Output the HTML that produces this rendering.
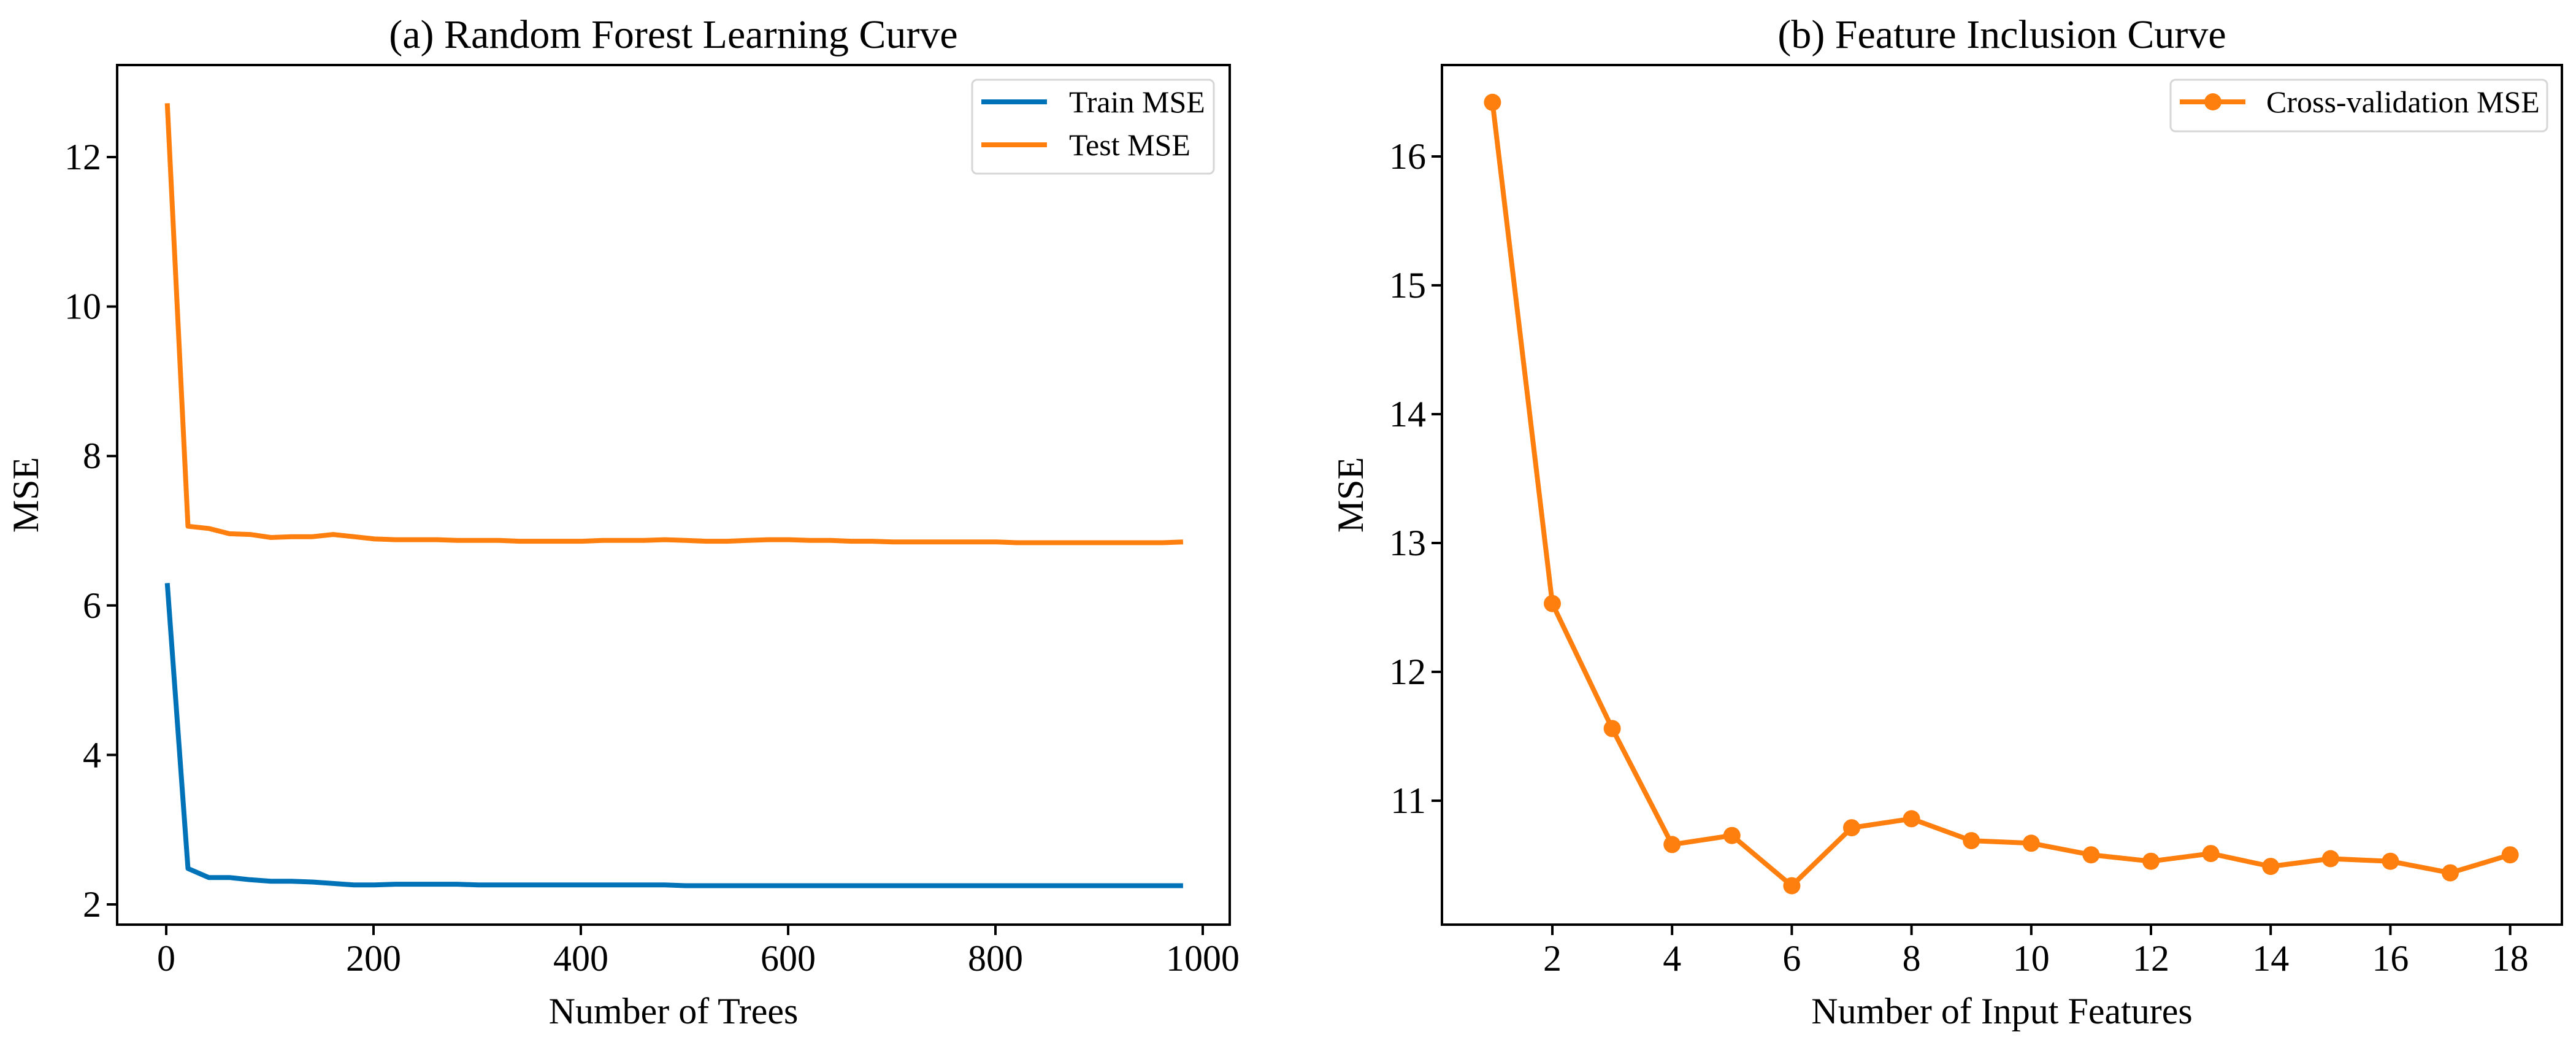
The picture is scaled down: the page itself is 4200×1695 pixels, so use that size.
<!DOCTYPE html>
<html><head><meta charset="utf-8"><style>
html,body{margin:0;padding:0;background:#fff;}
svg{display:block;}
text{font-family:"Liberation Serif",serif;fill:#000;}
</style></head><body>
<svg id="fig" width="4200" height="1695" viewBox="0 0 4200 1695" xmlns="http://www.w3.org/2000/svg"></svg>
<script>
// Panel (a) data
const treeCounts = [];
for (let i = 0; i < 50; i++) treeCounts.push(1 + 20 * i);
const trainMSE = [6.30,2.48,2.36,2.36,2.33,2.31,2.31,2.30,2.28,2.26,2.26,2.27,2.27,2.27,2.27,2.26,2.26,2.26,2.26,2.26,2.26,2.26,2.26,2.26,2.26,2.25,2.25,2.25,2.25,2.25,2.25,2.25,2.25,2.25,2.25,2.25,2.25,2.25,2.25,2.25,2.25,2.25,2.25,2.25,2.25,2.25,2.25,2.25,2.25,2.25];
const testMSE = [12.72,7.06,7.03,6.96,6.95,6.91,6.92,6.92,6.95,6.92,6.89,6.88,6.88,6.88,6.87,6.87,6.87,6.86,6.86,6.86,6.86,6.87,6.87,6.87,6.88,6.87,6.86,6.86,6.87,6.88,6.88,6.87,6.87,6.86,6.86,6.85,6.85,6.85,6.85,6.85,6.85,6.84,6.84,6.84,6.84,6.84,6.84,6.84,6.84,6.85];
const xTicksA = [0,200,400,600,800,1000];
const yTicksA = [2,4,6,8,10,12];
// Panel (b) data
const featureCounts = [1,2,3,4,5,6,7,8,9,10,11,12,13,14,15,16,17,18];
const cvMSE = [16.42,12.53,11.56,10.66,10.73,10.34,10.79,10.86,10.69,10.67,10.58,10.53,10.59,10.49,10.55,10.53,10.44,10.58];
const xTicksB = [2,4,6,8,10,12,14,16,18];
const yTicksB = [11,12,13,14,15,16];

const NS = "http://www.w3.org/2000/svg";
const svg = document.getElementById('fig');
function mk(tag, attrs, parent, txt) {
  const e = document.createElementNS(NS, tag);
  for (const k in attrs) e.setAttribute(k, attrs[k]);
  if (txt !== undefined) e.textContent = txt;
  (parent || svg).appendChild(e);
  return e;
}
const BLUE = '#0072b8', ORANGE = '#ff7f0e';

// axis functions
const xA = v => 271 + v * 1.69;
const yA = v => 256 + (12 - v) * 121.8;
const xB = v => 2531 + (v - 2) * 97.6;
const yB = v => 1305 - (v - 11) * 210;

function drawPanel(cfg) {
  const g = mk('g', {});
  
  
  const {L, R, T, B} = cfg;
  cfg.xTicks.forEach(t => {
    const x = cfg.xf(t);
    const tk = mk('line', {x1:x, x2:x, y1:B, y2:B+17, stroke:'#000', 'stroke-width':4}, g);
    
    
    const lb = mk('text', {x:x, y:B+75, 'font-size':60, 'text-anchor':'middle'}, g, String(t));
    
    
  });
  cfg.yTicks.forEach(t => {
    const y = cfg.yf(t);
    const tk = mk('line', {x1:L-17, x2:L, y1:y, y2:y, stroke:'#000', 'stroke-width':4}, g);
    
    
    const lb = mk('text', {x:L-26, y:y+20, 'font-size':60, 'text-anchor':'end'}, g, String(t));
    
    
  });
  cfg.series.forEach(s => {
    const pts = s.xs.map((v, i) => cfg.xf(v).toFixed(1) + ',' + cfg.yf(s.ys[i]).toFixed(1)).join(' ');
    const pl = mk('polyline', {points:pts, fill:'none', stroke:s.color, 'stroke-width':8, 'stroke-linejoin':'round'}, g);
    
    
    if (s.markers) {
      s.xs.forEach((v, i) => {
        const c = mk('circle', {cx:cfg.xf(v), cy:cfg.yf(s.ys[i]), r:14, fill:s.color}, g);
        
        
      });
    }
  });
  const fr = mk('rect', {x:L, y:T, width:R-L, height:B-T, fill:'none', stroke:'#000', 'stroke-width':4}, g);
  
  
  const ti = mk('text', {x:(L+R)/2, y:78, 'font-size':66, 'text-anchor':'middle'}, g, cfg.title);
  
  
  const xl = mk('text', {x:(L+R)/2, y:1668, 'font-size':60, 'text-anchor':'middle'}, g, cfg.xlabel);
  
  
  const yl = mk('text', {x:0, y:0, 'font-size':60, 'text-anchor':'middle', transform:`translate(${cfg.ylx},${(T+B)/2}) rotate(-90)`}, g, 'MSE');
  
  
  // legend
  const lg = mk('g', {}, g);
  
  
  const lgc = cfg.legend;
  mk('rect', {x:lgc.x, y:130, width:lgc.w, height:lgc.h, rx:8, fill:'#fff', stroke:'#d6d6d6', 'stroke-width':3}, lg);
  cfg.series.forEach((s, i) => {
    const y = 166 + i * 70;
    const e = mk('g', {}, lg);
    
    
    mk('line', {x1:lgc.x+15, x2:lgc.x+122, y1:y, y2:y, stroke:s.color, 'stroke-width':8}, e);
    if (s.markers) mk('circle', {cx:lgc.x+69, cy:y, r:14, fill:s.color}, e);
    mk('text', {x:lgc.x+lgc.tx, y:y+17, 'font-size':50}, e, s.label);
  });
}

drawPanel({name:'panel-a-learning-curve', L:191, R:2005, T:106, B:1507, xf:xA, yf:yA,
  xTicks:xTicksA, yTicks:yTicksA, title:'(a) Random Forest Learning Curve', xlabel:'Number of Trees', ylx:62,
  legend:{x:1585, w:394, h:153, tx:158},
  series:[{name:'train-mse-line', label:'Train MSE', xs:treeCounts, ys:trainMSE, color:BLUE},
          {name:'test-mse-line', label:'Test MSE', xs:treeCounts, ys:testMSE, color:ORANGE}]});
drawPanel({name:'panel-b-feature-inclusion', L:2351, R:4177, T:106, B:1507, xf:xB, yf:yB,
  xTicks:xTicksB, yTicks:yTicksB, title:'(b) Feature Inclusion Curve', xlabel:'Number of Input Features', ylx:2222,
  legend:{x:3539, w:614, h:84, tx:156},
  series:[{name:'cv-mse-line', label:'Cross-validation MSE', xs:featureCounts, ys:cvMSE, color:ORANGE, markers:true}]});
</script>
</body></html>
